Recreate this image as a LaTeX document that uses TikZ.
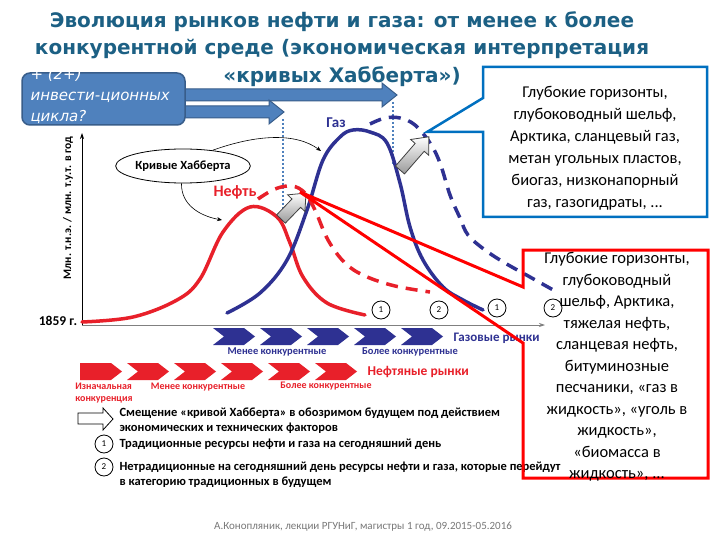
\documentclass[tikz,border=0pt]{standalone}
\usepackage{fontspec}
\setmainfont{Carlito}
\newfontfamily\vfont{DejaVu Sans}
\usetikzlibrary{positioning, arrows.meta, shapes.geometric}
\definecolor{titleblue}{RGB}{28,96,132}
\definecolor{boxblue}{RGB}{79,129,189}
\definecolor{boxedge}{RGB}{56,93,138}
\definecolor{gasblue}{RGB}{46,49,146}
\definecolor{oilred}{RGB}{232,32,42}
\definecolor{calloutblue}{RGB}{0,112,192}
\definecolor{calloutred}{RGB}{255,0,0}
\definecolor{footgray}{RGB}{120,120,120}

\tikzset{
  curve/.style={line width=3.5pt, line cap=round},
  dashcurve/.style={line width=3.5pt, dash pattern=on 12pt off 8pt},
  bluearrow/.style={fill=boxblue, draw=boxedge, line width=1pt},
  grayarrow/.style={draw=black!75, line width=0.8pt, top color=white, bottom color=gray!80},
  numcircle/.style={circle, draw=black, line width=0.8pt, minimum size=18pt, inner sep=0pt,
    font=\fontsize{9}{9}\selectfont},
  thinarrow/.style={line width=0.6pt, -{Stealth[length=5pt,width=4pt]}},
  marketlabel/.style={font=\fontsize{10.5}{12}\selectfont\bfseries},
  legendtext/.style={anchor=west, align=left, font=\fontsize{12.5}{15}\selectfont\bfseries},
  calloutlist/.style={align=center, font=\fontsize{16.5}{22}\selectfont}
}

\begin{document}
\begin{tikzpicture}[x=1pt, y=-1pt]
\fill[white] (0,0) rectangle (720,540);
\useasboundingbox (0,0) rectangle (720,540);

% title
\node[align=center, text=titleblue, font=\vfont\bfseries\fontsize{20}{27.5}\selectfont]
  (title) at (342,49) {Эволюция рынков нефти и газа: от менее к более\\
  конкурентной среде (экономическая интерпретация\\
  «кривых Хабберта»)};

% investment cycles
\foreach \yc/\xt in {95/397, 112/284}
  \draw[bluearrow] (180,\yc-6) -- (\xt-15,\yc-6) -- (\xt-15,\yc-12) -- (\xt,\yc)
    -- (\xt-15,\yc+12) -- (\xt-15,\yc+6) -- (180,\yc+6) -- cycle;
\draw[fill=boxblue, draw=boxedge, line width=1.5pt, rounded corners=8pt] (22,73) rectangle (185,125);
\node[anchor=north west, align=left, text=white, font=\vfont\itshape\fontsize{15}{21}\selectfont]
  (cycles) at (27,65) {+ (2+)\\инвести-ционных\\цикла?};
\draw[boxblue, line width=1.5pt, dash pattern=on 2pt off 2pt] (283,119) -- (283,222);
\draw[boxblue, line width=1.5pt, dash pattern=on 2pt off 2pt] (393,102) -- (393,165);

% axes
\coordinate (origin) at (82,325);
\draw[line width=0.8pt, -{Stealth[length=6pt,width=4pt]}] (origin) -- (82,133);
\draw[gray, line width=0.8pt, -{Stealth[length=6pt,width=4pt]}] (origin) -- (545,325);
\node[rotate=90, font=\fontsize{11.5}{12}\selectfont\bfseries] (ylabel) at (68,208)
  {Млн. т.н.э. / млн. т.у.т. в год};
\node[font=\fontsize{13.5}{14}\selectfont\bfseries] (year) at (58,321) {1859 г.};

% curves
\draw[curve, oilred] plot[smooth, tension=0.6] coordinates {(82,322) (133,317) (177,300)
  (200,279) (223,232) (250,207) (277,217) (290,243) (303,277) (327,303) (365,315)};
\draw[curve, gasblue] plot[smooth, tension=0.6] coordinates {(227,313) (260,293) (287,260)
  (307,210) (323,160) (340,137) (353,130) (370,132) (387,143) (400,183) (410,227) (423,260)
  (443,287) (463,300) (483,310)};
\draw[dashcurve, oilred] plot[smooth, tension=0.6] coordinates {(258,199) (275,189) (292,186)
  (305,193) (315,210) (328,240) (345,263) (365,276) (395,286) (430,292)};
\draw[dashcurve, gasblue] plot[smooth, tension=0.6] coordinates {(370,124) (385,118) (400,118)
  (415,125) (430,143) (440,163) (450,195) (460,218) (468,235) (485,250) (505,263) (530,277)
  (555,291)};
\node[text=oilred, font=\fontsize{16}{18}\selectfont\bfseries] (oillabel) at (235,192) {Нефть};
\node[text=gasblue, font=\fontsize{15}{17}\selectfont\bfseries] (gaslabel) at (336,123) {Газ};

% hubbert note
\node[ellipse, draw, fill=white, line width=0.8pt, minimum width=118pt, minimum height=34pt,
  inner sep=0pt, font=\fontsize{12.5}{14}\selectfont\bfseries] (hubbert) at (183,166) {Кривые Хабберта};
\coordinate (gaspoint) at (321,151);
\coordinate (oilpoint) at (222,220);
\draw[thinarrow] (hubbert.28) .. controls (255,135) and (295,132) .. (gaspoint);
\draw[thinarrow] (hubbert.-95) .. controls (181,205) and (200,216) .. (oilpoint);

% shifts of the curves
\begin{scope}[shift={(281,219)}, rotate=46]
  \shade[grayarrow] (0,-6) -- (22,-6) -- (22,-12) -- (36,0) -- (22,12) -- (22,6) -- (0,6) -- cycle;
\end{scope}
\begin{scope}[shift={(400,170)}, rotate=49]
  \shade[grayarrow] (0,-6) -- (30,-6) -- (30,-12) -- (44,0) -- (30,12) -- (30,6) -- (0,6) -- cycle;
\end{scope}

% resource marks
\node[numcircle] (oilnow) at (381,310) {1};
\node[numcircle] (oilnext) at (439,310) {2};
\node[numcircle] (gasnow) at (497,308) {1};
\node[numcircle] (gasnext) at (553,308) {2};

% markets
\foreach \x in {213,260,307,354,401}
  \fill[gasblue] (\x,328) -- (\x+31,328) -- (\x+42,336.5) -- (\x+31,345) -- (\x,345)
    -- (\x+11,336.5) -- cycle;
\foreach \x/\n in {80/0,127/11,174/11,221/11,268/11,315/11}
  \fill[oilred] (\x,363) -- (\x+31,363) -- (\x+42,371.5) -- (\x+31,380) -- (\x,380)
    -- (\x+\n,371.5) -- cycle;
\node[anchor=west, text=gasblue, font=\fontsize{13}{14}\selectfont\bfseries] (gasmarket) at (450,338) {Газовые рынки};
\node[marketlabel, text=gasblue] (gasless) at (277,352) {Менее конкурентные};
\node[marketlabel, text=gasblue] (gasmore) at (410,352) {Более конкурентные};
\node[anchor=west, text=oilred, font=\fontsize{13.5}{15}\selectfont\bfseries] (oilmarket) at (364,372) {Нефтяные рынки};
\node[marketlabel, text=oilred, align=left, font=\fontsize{10}{12}\selectfont\bfseries] (oilfirst) at (104,393) {Изначальная\\конкуренция};
\node[marketlabel, text=oilred, font=\fontsize{10}{12}\selectfont\bfseries] (oilless) at (198,387) {Менее конкурентные};
\node[marketlabel, text=oilred, font=\fontsize{10}{12}\selectfont\bfseries] (oilmore) at (326,386) {Более конкурентные};

% legend
\draw[fill=white, line width=0.8pt] (78,413) -- (103,413) -- (103,408) -- (113,419) -- (103,430)
  -- (103,424) -- (78,424) -- cycle;
\node[legendtext] (shiftnote) at (116,420.5) {Смещение «кривой Хабберта» в обозримом будущем под действием\\
  экономических и технических факторов};
\node[numcircle] (markone) at (104,444) {1};
\node[legendtext] (onenote) at (116,444) {Традиционные ресурсы нефти и газа на сегодняшний день};
\node[numcircle] (marktwo) at (104,467) {2};
\node[legendtext] (twonote) at (116,474.5) {Нетрадиционные на сегодняшний день ресурсы нефти и газа, которые перейдут\\
  в категорию традиционных в будущем};

% callouts
\coordinate (gastip) at (427,132);
\draw[calloutblue, line width=2.5pt, fill=white] (483,67) -- (707,67) -- (707,217) -- (483,217)
  -- (483,132) -- (gastip) -- (483,98) -- cycle;
\node[calloutlist] (gaslist) at (595,148) {Глубокие горизонты,\\глубоководный шельф,\\
  Арктика, сланцевый газ,\\метан угольных пластов,\\биогаз, низконапорный\\газ, газогидраты, ...};
\coordinate (oiltip) at (300,192);
\draw[calloutred, line width=3pt] (523,250) -- (708,250) -- (708,478) -- (523,478) -- (523,343)
  -- (oiltip) -- (523,287) -- cycle;
\node[calloutlist, font=\fontsize{16.5}{21.5}\selectfont] (oillist) at (617,367) {Глубокие горизонты,\\
  глубоководный\\шельф, Арктика,\\тяжелая нефть,\\сланцевая нефть,\\битуминозные\\
  песчаники, «газ в\\жидкость», «уголь в\\жидкость»,\\«биомасса в\\жидкость», ...};

% footer
\node[text=footgray, font=\fontsize{11}{12}\selectfont] (footer) at (363,527)
  {А.Конопляник, лекции РГУНиГ, магистры 1 год, 09.2015-05.2016};
\end{tikzpicture}
\end{document}
